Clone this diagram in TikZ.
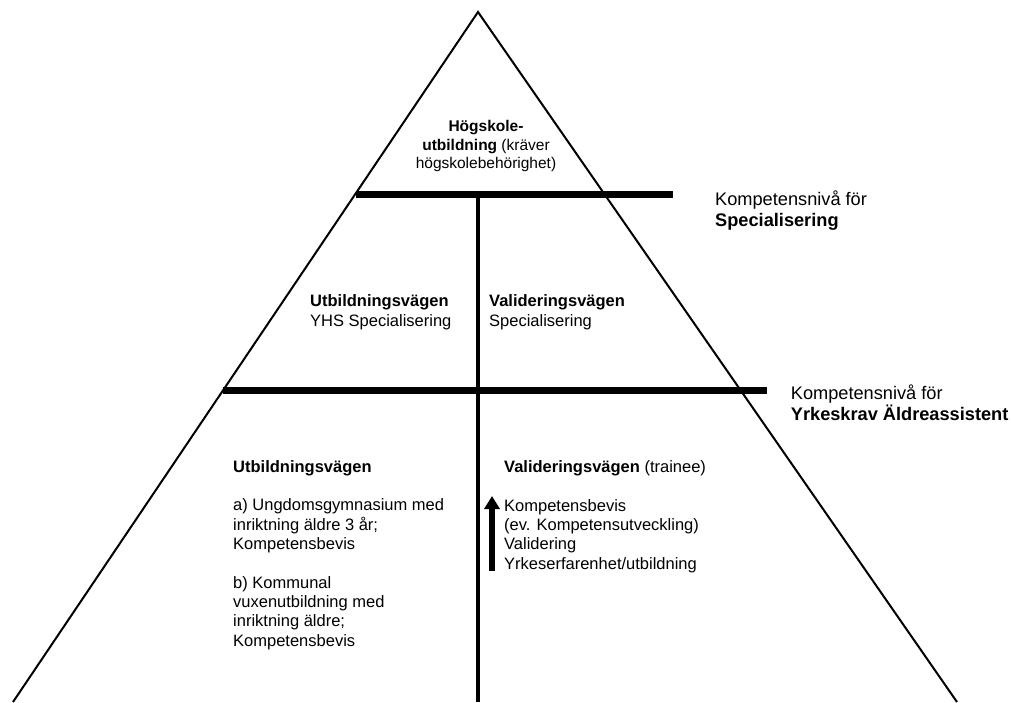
\documentclass[tikz,border=0pt]{standalone}
\usepackage{fontspec}
\setmainfont{Liberation Sans}
\usetikzlibrary{arrows.meta}
\tikzset{
  sideedge/.style={line width=2pt, line join=miter},
  levelbar/.style={line width=7pt},
  divider/.style={line width=3.5pt},
  uparrow/.style={line width=6pt, -{Triangle[width=15pt,length=13pt]}},
  bodytext/.style={font=\fontsize{16.5}{19.3}\selectfont, inner sep=0pt, align=left, anchor=base west},
  toptext/.style={font=\fontsize{15.5}{18.4}\selectfont, inner sep=0pt, align=center, anchor=base},
  sidelabel/.style={font=\fontsize{18.2}{21}\selectfont, inner sep=0pt, align=left, anchor=base west},
}
\begin{document}
\begin{tikzpicture}[x=1pt,y=-1pt]
\useasboundingbox (0,0) rectangle (1011,702);
\clip (0,0) rectangle (1011,702);
% pyramid
\coordinate (apex) at (478,12);
\coordinate (bl) at (13,702);
\coordinate (br) at (957,702);
\draw[sideedge] (bl) -- (apex) -- (br);
% level bars
\coordinate (b1l) at (356,194);
\coordinate (b1r) at (673,194);
\coordinate (b2l) at (223,390);
\coordinate (b2r) at (767,390);
\draw[levelbar] (b1l) -- (b1r);
\draw[levelbar] (b2l) -- (b2r);
% divider
\coordinate (dt) at (478,194);
\coordinate (db) at (478,702);
\draw[divider] (dt) -- (db);
% arrow
\coordinate (as) at (492,571);
\coordinate (ae) at (492,496);
\draw[uparrow] (as) -- (ae);
% texts (anchored at the baseline of their last line)
\node[toptext] (hs) at (486,168.5) {\textbf{Högskole-}\\\textbf{utbildning} (kräver\\högskolebehörighet)};
\node[bodytext] (ul) at (310,326) {\textbf{Utbildningsvägen}\\YHS Specialisering};
\node[bodytext] (vl) at (489,326) {\textbf{Valideringsvägen}\\Specialisering};
\node[bodytext] (ull) at (233,646) {\textbf{Utbildningsvägen}\\[19.3pt]a) Ungdomsgymnasium med\\inriktning äldre 3 år;\\Kompetensbevis\\[19.3pt]b) Kommunal\\vuxenutbildning med\\inriktning äldre;\\Kompetensbevis};
\node[bodytext] (vll) at (504,569) {\textbf{Valideringsvägen} (trainee)\\[19.3pt]Kompetensbevis\\(ev. Kompetensutveckling)\\Validering\\Yrkeserfarenhet/utbildning};
\node[sidelabel] (k1) at (715,226) {Kompetensnivå för\\\textbf{Specialisering}};
\node[sidelabel] (k2) at (790.7,420) {Kompetensnivå för\\\textbf{Yrkeskrav Äldreassistent}};
\end{tikzpicture}
\end{document}
